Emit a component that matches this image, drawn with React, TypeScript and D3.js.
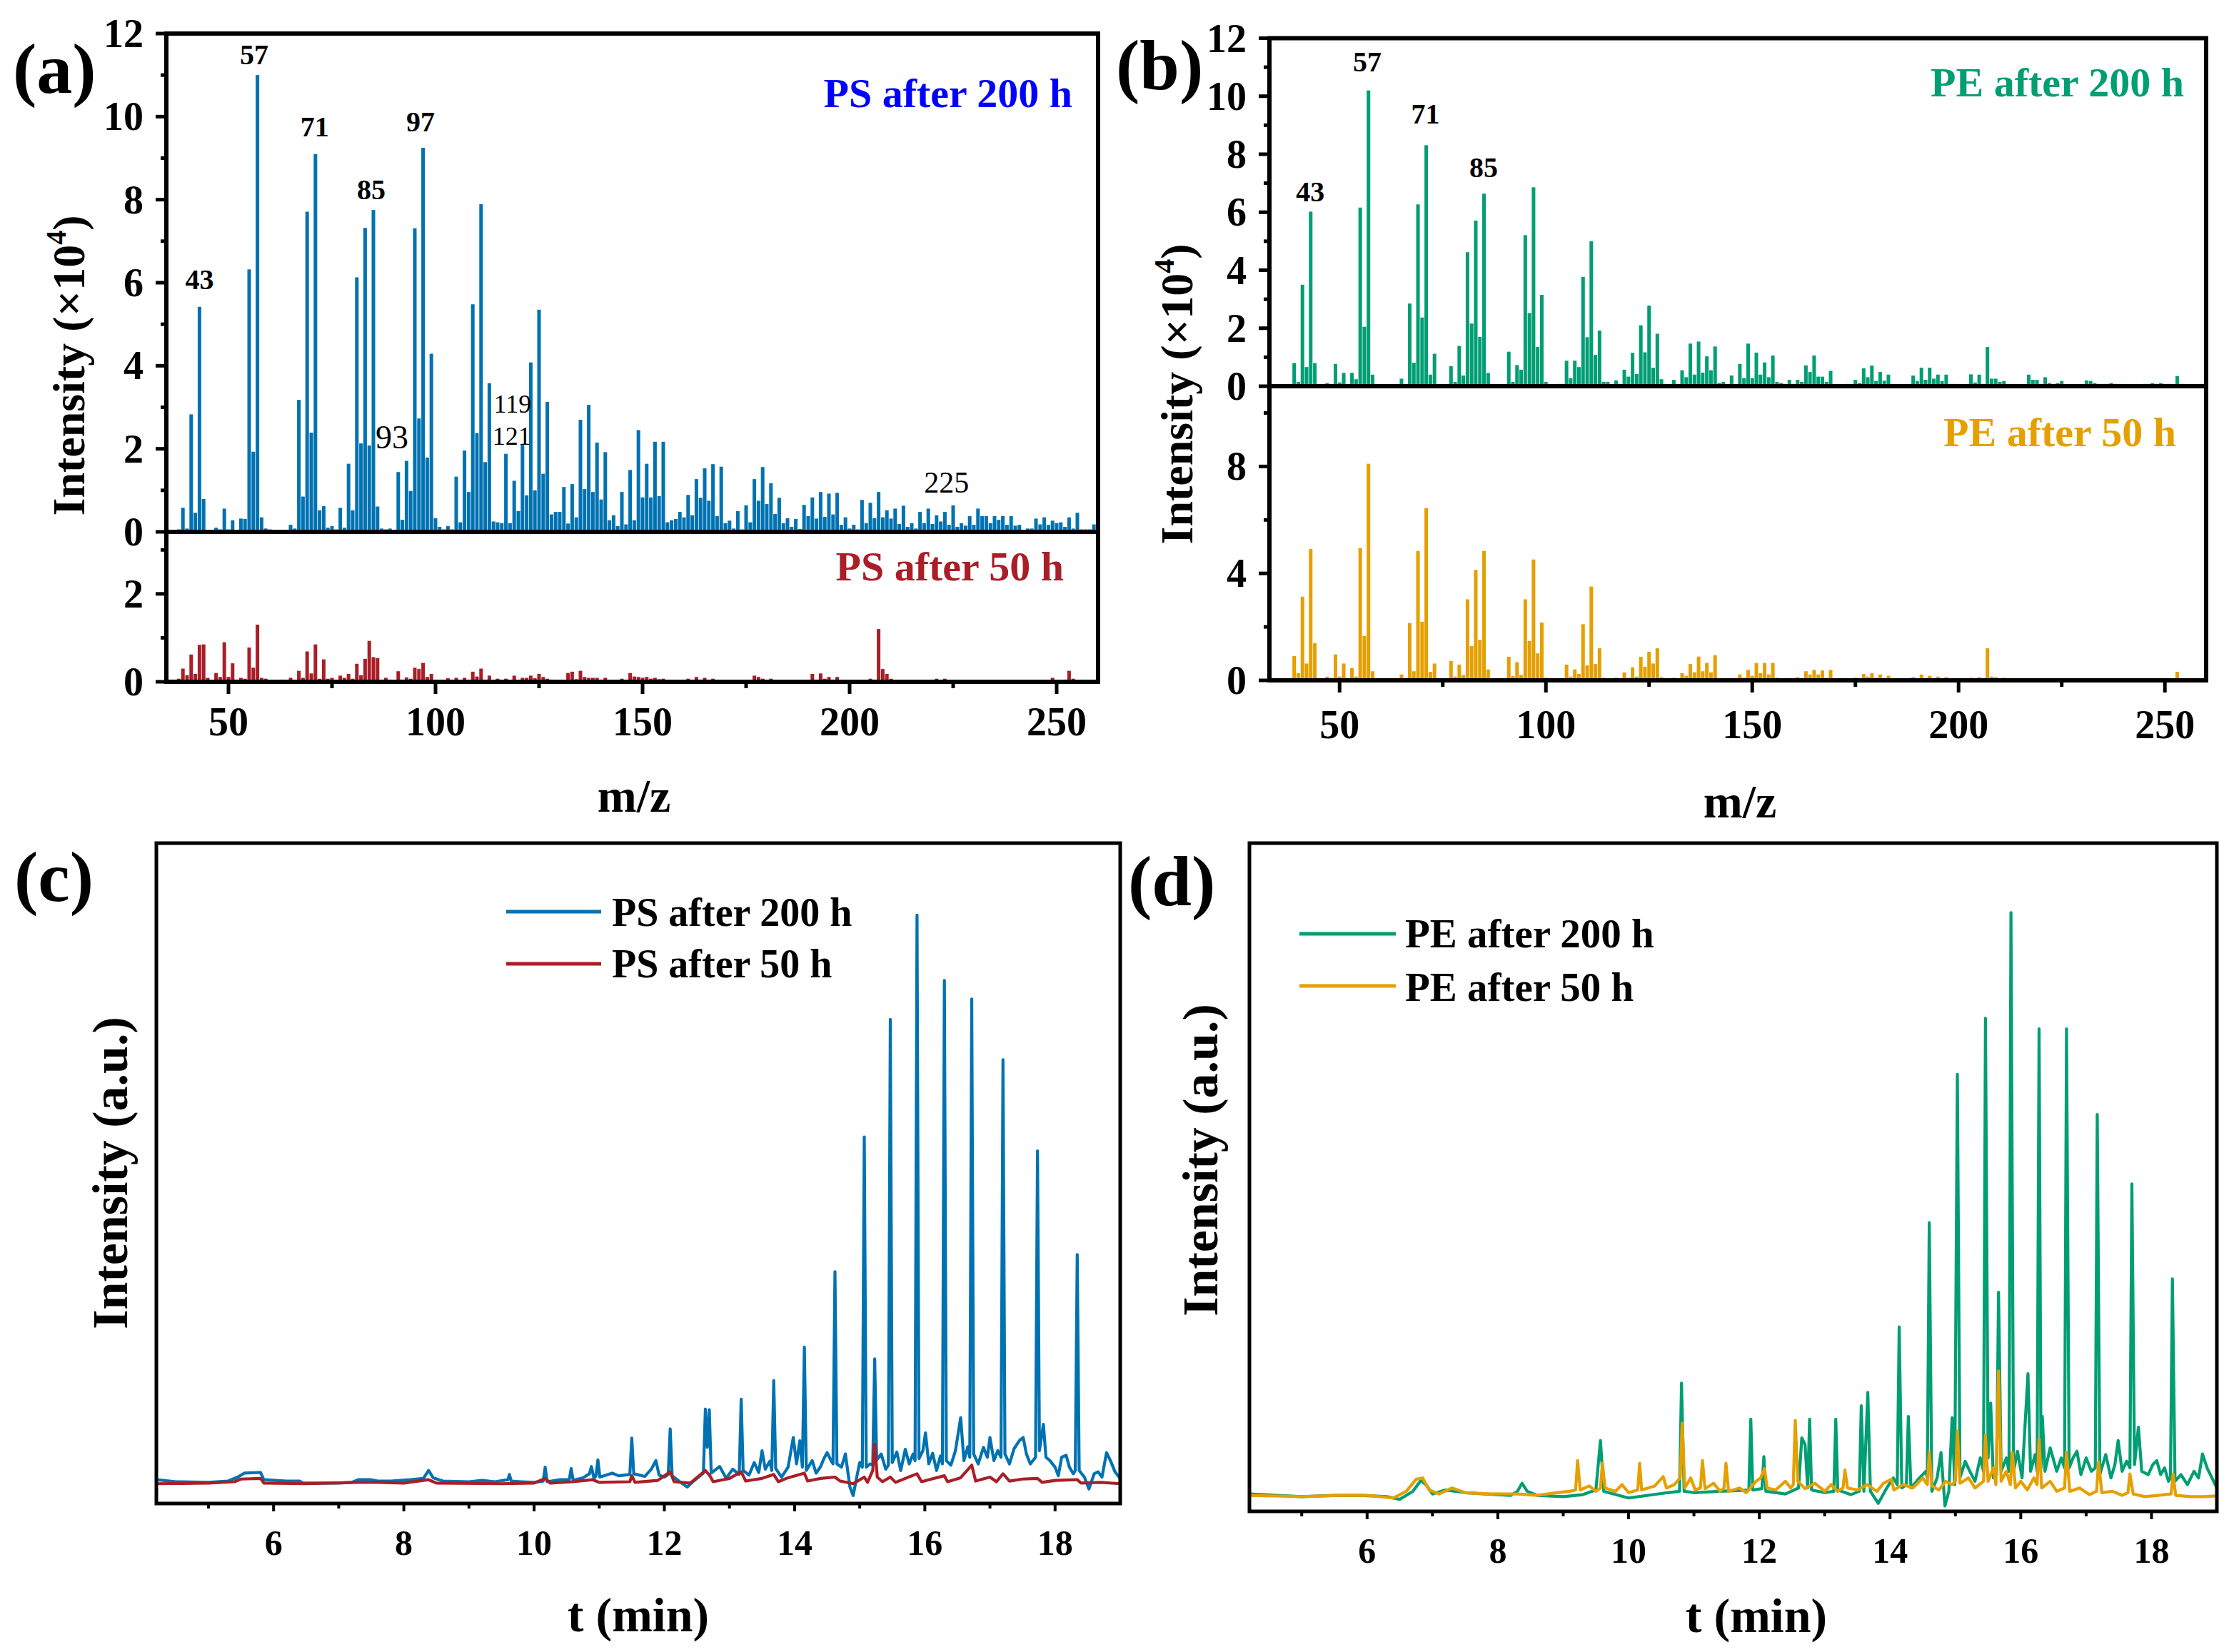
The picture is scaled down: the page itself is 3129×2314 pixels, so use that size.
import React from 'react';
import * as d3 from 'd3';

const FONT = "'Liberation Serif','Times New Roman',Times,serif";

// ---------------- Mass spectra (m/z from 36 to 259, intensity ×10^4) ----------------
const MZ_START = 36;

const ps200Intensity = [
  0, 0.04, 0.06, 0.58, 0.08, 2.83, 0.46, 5.42, 0.79, 0.05,
  0, 0.1, 0.06, 0.56, 0.06, 0.28, 0.04, 0.32, 0.31, 6.32,
  1.93, 11.0, 0.35, 0.08, 0.06, 0.04, 0, 0.04, 0, 0.17,
  0.08, 3.18, 0.85, 7.71, 2.39, 9.1, 0.52, 0.62, 0.1, 0.14,
  0.06, 0.58, 0.1, 1.64, 0.52, 6.13, 2.13, 7.32, 2.08, 7.75,
  0.61, 0.08, 0.06, 0.08, 0, 1.44, 0.29, 1.71, 0.98, 7.31,
  2.73, 9.25, 1.79, 4.29, 0.33, 0.12, 0.06, 0.14, 0.06, 1.33,
  0.23, 1.96, 0.96, 5.48, 2.38, 7.89, 1.68, 3.58, 0.25, 0.23,
  0.21, 1.88, 0.21, 1.23, 0.5, 2.1, 0.88, 4.08, 1.0, 5.35,
  1.4, 3.13, 0.42, 0.48, 0.48, 1.08, 0.2, 1.15, 0.35, 2.7,
  1.03, 3.06, 0.96, 2.15, 0.78, 1.92, 0.28, 0.4, 0.14, 0.96,
  0.18, 1.49, 0.28, 2.45, 0.83, 1.64, 0.83, 2.17, 0.86, 2.17,
  0.23, 0.28, 0.31, 0.48, 0.35, 0.89, 0.4, 1.27, 0.82, 1.53,
  0.75, 1.63, 0.38, 1.57, 0.21, 0.27, 0.08, 0.5, 0.06, 0.64,
  0.23, 1.27, 0.75, 1.56, 0.67, 1.17, 0.43, 0.82, 0.21, 0.33,
  0.12, 0.31, 0.07, 0.65, 0.38, 0.83, 0.32, 0.96, 0.36, 0.92,
  0.42, 0.94, 0.17, 0.35, 0.08, 0.17, 0.06, 0.77, 0.21, 0.7,
  0.33, 0.96, 0.35, 0.52, 0.32, 0.56, 0.19, 0.63, 0.12, 0.21,
  0.08, 0.48, 0.21, 0.56, 0.19, 0.4, 0.25, 0.48, 0.17, 0.64,
  0.12, 0.21, 0.15, 0.38, 0.17, 0.56, 0.38, 0.38, 0.21, 0.38,
  0.29, 0.38, 0.17, 0.38, 0.15, 0.17, 0.04, 0.08, 0.08, 0.32,
  0.18, 0.35, 0.17, 0.27, 0.21, 0.23, 0.12, 0.35, 0.08, 0.46,
  0.06, 0.06, 0.06, 0.18,
];

const ps50Intensity = [
  0.05, 0.05, 0.07, 0.3, 0.15, 0.62, 0.18, 0.84, 0.85, 0.09,
  0, 0.2, 0.11, 0.9, 0.11, 0.42, 0.05, 0.09, 0.07, 0.78,
  0.32, 1.3, 0.09, 0.07, 0, 0, 0, 0.05, 0, 0.09,
  0, 0.25, 0.09, 0.69, 0.19, 0.85, 0.07, 0.51, 0.07, 0.09,
  0, 0.14, 0.09, 0.18, 0.07, 0.41, 0.15, 0.52, 0.93, 0.56,
  0.54, 0.05, 0.09, 0.05, 0, 0.24, 0.05, 0.1, 0.07, 0.32,
  0.29, 0.43, 0.11, 0.18, 0, 0, 0, 0.08, 0.05, 0.09,
  0, 0.09, 0, 0.23, 0.12, 0.3, 0.05, 0.14, 0, 0.07,
  0, 0.07, 0, 0.14, 0, 0.09, 0.09, 0.14, 0.08, 0.18,
  0.11, 0.07, 0.05, 0, 0, 0, 0.2, 0.23, 0.06, 0.25,
  0.11, 0.09, 0.09, 0.09, 0.05, 0.09, 0, 0, 0, 0.07,
  0, 0.2, 0.12, 0.11, 0.09, 0.11, 0.07, 0.09, 0.06, 0.07,
  0, 0, 0, 0, 0, 0.07, 0, 0.11, 0.05, 0.09,
  0.05, 0.07, 0.03, 0, 0, 0, 0, 0, 0, 0,
  0, 0.14, 0.11, 0.07, 0.04, 0.07, 0.04, 0, 0, 0,
  0, 0, 0, 0, 0, 0.18, 0.05, 0.19, 0.07, 0.11,
  0.05, 0.11, 0, 0, 0, 0, 0, 0, 0, 0.07,
  0.05, 1.2, 0.29, 0.18, 0.07, 0.04, 0, 0, 0, 0,
  0, 0, 0, 0, 0, 0.07, 0, 0.07, 0, 0,
  0, 0, 0, 0, 0, 0, 0, 0, 0, 0,
  0, 0, 0, 0, 0, 0, 0, 0, 0, 0,
  0, 0, 0, 0.09, 0, 0, 0.05, 0.25, 0.07, 0.04,
  0, 0, 0, 0,
];

const pe200Intensity = [
  0, 0.04, 0.04, 0.8, 0.15, 3.5, 0.66, 6.02, 0.8, 0.05,
  0, 0.11, 0.05, 0.77, 0.13, 0.46, 0.04, 0.46, 0.24, 6.16,
  2.05, 10.2, 0.4, 0.04, 0, 0, 0, 0.04, 0, 0.26,
  0.08, 2.85, 0.81, 6.27, 2.37, 8.31, 0.4, 1.12, 0.04, 0.04,
  0, 0.69, 0.15, 1.39, 0.37, 4.62, 2.16, 5.71, 1.7, 6.64,
  0.46, 0.04, 0.04, 0.04, 0, 1.19, 0.15, 0.73, 0.57, 5.21,
  2.52, 6.86, 1.35, 3.15, 0.15, 0, 0, 0.08, 0.08, 0.88,
  0.28, 0.88, 0.66, 3.77, 1.69, 5.0, 1.08, 1.92, 0.15, 0.15,
  0, 0.2, 0.08, 0.57, 0.33, 1.15, 0.42, 2.1, 1.17, 2.78,
  0.64, 1.81, 0.24, 0.08, 0, 0.22, 0, 0.55, 0.31, 1.47,
  0.4, 1.54, 0.47, 1.03, 0.55, 1.37, 0.11, 0.15, 0.06, 0.37,
  0.08, 0.77, 0.28, 1.47, 0.28, 1.16, 0.4, 0.82, 0.31, 1.06,
  0.15, 0.11, 0.08, 0.22, 0.08, 0.22, 0.15, 0.72, 0.49, 1.06,
  0.33, 0.33, 0.15, 0.53, 0.06, 0.06, 0, 0.08, 0, 0.22,
  0.11, 0.62, 0.31, 0.71, 0.18, 0.49, 0.19, 0.4, 0.08, 0.06,
  0, 0.06, 0, 0.37, 0.18, 0.64, 0.22, 0.64, 0.26, 0.4,
  0.18, 0.4, 0.08, 0.08, 0, 0.06, 0, 0.41, 0.13, 0.4,
  0.08, 1.35, 0.26, 0.26, 0.15, 0.18, 0, 0, 0, 0.04,
  0, 0.4, 0.22, 0.22, 0.08, 0.31, 0.11, 0.08, 0.11, 0.18,
  0, 0, 0, 0.04, 0, 0.2, 0.18, 0.11, 0.08, 0.08,
  0.08, 0.11, 0.08, 0.08, 0, 0, 0, 0.04, 0, 0.08,
  0.08, 0.11, 0.08, 0.11, 0.08, 0.08, 0.04, 0.35, 0.08, 0.06,
  0, 0.04, 0, 0.08,
];

const pe50Intensity = [
  0, 0.04, 0.04, 0.91, 0.27, 3.13, 0.63, 4.91, 1.39, 0.08,
  0, 0.14, 0.08, 0.97, 0.14, 0.63, 0.08, 0.46, 0.14, 4.95,
  1.66, 8.1, 0.34, 0.04, 0, 0, 0, 0.04, 0, 0.22,
  0.08, 2.14, 0.34, 4.84, 2.19, 6.44, 0.32, 0.63, 0.08, 0.08,
  0, 0.72, 0.14, 0.59, 0.2, 3.03, 1.28, 4.13, 1.52, 4.84,
  0.41, 0.04, 0.04, 0.04, 0, 0.88, 0.16, 0.68, 0.2, 3.03,
  1.47, 4.52, 1.01, 2.16, 0.1, 0, 0, 0.04, 0.04, 0.59,
  0.14, 0.41, 0.24, 2.1, 0.56, 3.51, 0.61, 1.2, 0.1, 0.08,
  0, 0.1, 0.04, 0.3, 0.1, 0.49, 0.14, 0.88, 0.51, 1.07,
  0.63, 1.2, 0.12, 0.04, 0, 0.1, 0.04, 0.27, 0.17, 0.61,
  0.3, 0.89, 0.34, 0.65, 0.3, 0.94, 0.08, 0.04, 0, 0.08,
  0.04, 0.22, 0.1, 0.39, 0.17, 0.65, 0.27, 0.65, 0.22, 0.65,
  0.1, 0.04, 0.04, 0.04, 0, 0.12, 0.04, 0.34, 0.22, 0.39,
  0.22, 0.37, 0.1, 0.39, 0.04, 0, 0, 0.04, 0, 0.1,
  0.04, 0.24, 0.14, 0.27, 0.1, 0.22, 0.04, 0.17, 0, 0,
  0, 0.04, 0, 0.12, 0.04, 0.22, 0.08, 0.17, 0.08, 0.14,
  0.04, 0.12, 0.04, 0, 0, 0, 0, 0.1, 0.04, 0.12,
  0.04, 1.2, 0.14, 0.12, 0.04, 0.1, 0, 0, 0, 0,
  0, 0, 0, 0.04, 0.04, 0.06, 0.04, 0.04, 0.06, 0.04,
  0, 0, 0, 0, 0, 0, 0, 0.04, 0.04, 0.04,
  0.04, 0.06, 0.04, 0.04, 0, 0, 0, 0, 0, 0.04,
  0, 0.04, 0.04, 0.04, 0, 0, 0.04, 0.32, 0.06, 0.04,
  0, 0, 0, 0,
];

// peak annotations: text, m/z position, label height (data units)
const psLabelText = ['43', '57', '71', '85', '97', '93', '119', '121', '225'];
const psLabelMz = [43, 56.2, 70.8, 84.5, 96.4, 89.5, 118.6, 118.4, 223.4];
const psLabelY = [5.85, 11.26, 9.52, 8.01, 9.64, 2.01, 2.87, 2.1, 0.95];
const peLabelText = ['43', '57', '71', '85'];
const peLabelMz = [42.9, 56.7, 70.8, 84.9];
const peLabelY = [6.38, 10.86, 9.06, 7.22];

const mzMajorTicks = [50, 100, 150, 200, 250];
const mzMinorTicks = [75, 125, 175, 225];
const topMajorTicks = [0, 2, 4, 6, 8, 10, 12];
const topMinorTicks = [1, 3, 5, 7, 9, 11];
const psBotMajorTicks = [0, 2];
const psBotMinorTicks = [1, 3];
const peBotMajorTicks = [0, 4, 8];
const peBotMinorTicks = [2, 6, 10];

// ---------------- Chromatograms: [time (min), intensity (a.u., 0-100)] ----------------
const psTrace200: [number, number][] = [
  [4.2,3.6],[4.5,3.3],[5.0,3.2],[5.3,3.4],[5.45,4.0],[5.55,4.6],[5.8,4.7],[5.85,3.6],[6.2,3.4],[6.4,3.4],[6.45,3.1],[7.0,3.1],[7.2,3.2],[7.3,3.6],[7.5,3.6],[7.6,3.4],[7.8,3.4],[8.1,3.6],[8.3,3.8],[8.38,5.0],[8.45,3.9],[8.6,3.4],[9.0,3.3],[9.2,3.5],[9.4,3.3],[9.6,3.6],[9.62,4.4],[9.65,3.4],[9.8,3.3],[10.0,3.2],[10.14,3.4],[10.17,5.5],[10.2,3.3],[10.4,3.6],[10.54,3.6],[10.57,5.3],[10.6,3.5],[10.75,3.9],[10.85,4.5],[10.88,5.6],[10.92,3.8],[10.95,4.2],[10.98,6.6],[11.01,4.0],[11.2,4.6],[11.3,4.2],[11.47,4.4],[11.5,9.9],[11.53,4.5],[11.7,4.1],[11.8,5.2],[11.87,6.5],[11.92,4.3],[12.0,4.0],[12.06,4.4],[12.09,11.3],[12.12,4.2],[12.25,3.2],[12.35,2.5],[12.45,3.4],[12.55,4.2],[12.6,4.6],[12.63,14.3],[12.66,8.5],[12.69,14.2],[12.72,4.6],[12.85,5.6],[12.95,3.8],[13.05,5.2],[13.15,4.4],[13.18,15.8],[13.21,5.0],[13.3,4.3],[13.38,6.2],[13.45,4.7],[13.5,8.0],[13.55,5.2],[13.62,6.4],[13.65,5.0],[13.68,18.6],[13.71,5.3],[13.8,4.0],[13.9,5.5],[13.98,10.0],[14.03,6.0],[14.08,9.5],[14.12,5.5],[14.15,23.7],[14.18,5.0],[14.27,6.5],[14.33,4.6],[14.4,5.6],[14.45,6.8],[14.5,7.7],[14.56,6.5],[14.59,6.0],[14.62,35.1],[14.65,6.0],[14.72,5.5],[14.78,7.5],[14.85,2.5],[14.9,1.2],[14.95,3.8],[15.0,6.2],[15.04,5.5],[15.07,55.5],[15.1,5.5],[15.16,6.0],[15.2,5.8],[15.23,21.9],[15.26,6.6],[15.33,7.5],[15.4,5.2],[15.44,5.8],[15.47,73.3],[15.5,6.2],[15.57,7.8],[15.63,5.0],[15.7,8.2],[15.76,6.0],[15.82,7.5],[15.85,6.5],[15.88,89.1],[15.91,6.8],[15.97,8.0],[16.01,10.7],[16.06,6.0],[16.12,7.6],[16.18,5.0],[16.24,7.2],[16.27,6.0],[16.3,79.2],[16.33,6.5],[16.4,5.8],[16.47,8.0],[16.55,13.0],[16.6,6.5],[16.66,8.6],[16.69,7.0],[16.72,76.4],[16.75,7.5],[16.82,6.0],[16.9,8.5],[16.96,7.0],[17.0,10.0],[17.06,6.5],[17.12,8.0],[17.17,7.0],[17.2,67.2],[17.23,7.5],[17.3,6.0],[17.37,8.3],[17.45,9.5],[17.51,10.0],[17.56,7.5],[17.62,6.0],[17.7,7.0],[17.73,53.4],[17.76,8.0],[17.82,12.0],[17.86,7.0],[17.92,6.5],[18.0,5.5],[18.05,4.2],[18.1,7.0],[18.17,7.3],[18.22,5.5],[18.28,4.5],[18.31,5.0],[18.34,37.7],[18.37,5.0],[18.45,4.0],[18.52,2.2],[18.6,4.5],[18.66,4.8],[18.72,4.0],[18.79,7.7],[18.85,6.5],[18.92,4.8],[19.0,3.8],
];

const psTrace50: [number, number][] = [
  [4.2,3.0],[5.0,3.1],[5.4,3.3],[5.5,3.7],[5.8,3.8],[5.85,3.1],[6.5,3.0],[7.3,3.2],[7.6,3.2],[8.0,3.1],[8.38,3.6],[8.5,3.1],[9.5,3.0],[10.0,3.1],[10.17,3.8],[10.25,3.1],[10.6,3.3],[10.9,3.6],[11.0,3.2],[11.47,3.3],[11.5,4.2],[11.55,3.2],[11.9,3.5],[12.09,4.8],[12.15,3.3],[12.4,3.1],[12.63,5.0],[12.7,4.2],[12.75,3.3],[13.0,3.8],[13.18,4.8],[13.25,3.4],[13.5,3.8],[13.68,4.4],[13.75,3.3],[13.9,3.9],[14.15,4.6],[14.2,3.4],[14.4,3.8],[14.62,4.0],[14.7,3.4],[14.9,3.0],[15.07,4.0],[15.12,3.2],[15.2,5.0],[15.23,9.0],[15.27,4.0],[15.35,3.3],[15.47,4.0],[15.55,3.2],[15.7,3.8],[15.88,4.5],[15.95,3.3],[16.1,3.7],[16.3,4.2],[16.35,3.3],[16.55,3.9],[16.72,5.8],[16.78,3.4],[17.0,4.0],[17.1,3.3],[17.2,4.5],[17.3,3.4],[17.5,3.7],[17.73,3.8],[17.8,3.2],[18.0,3.5],[18.34,3.6],[18.4,3.1],[18.7,3.2],[19.0,3.0],
];

const peTrace200: [number, number][] = [
  [4.2,2.6],[5.0,2.2],[5.5,2.4],[5.9,2.4],[6.3,2.2],[6.5,1.8],[6.7,3.0],[6.82,4.6],[6.9,4.0],[7.0,2.6],[7.2,3.2],[7.5,2.8],[7.8,2.6],[8.2,2.4],[8.3,3.0],[8.37,4.2],[8.45,3.0],[8.6,2.4],[9.0,2.2],[9.3,2.5],[9.5,3.2],[9.57,10.6],[9.62,3.0],[10.0,2.0],[10.3,2.4],[10.6,2.8],[10.78,3.0],[10.81,19.2],[10.85,3.0],[11.0,2.8],[11.4,3.0],[11.84,3.2],[11.87,13.8],[11.9,3.2],[12.04,3.4],[12.07,8.2],[12.1,3.0],[12.4,2.6],[12.6,3.5],[12.65,11.0],[12.7,10.0],[12.74,3.5],[12.77,13.8],[12.8,3.2],[13.0,2.8],[13.14,3.0],[13.17,13.8],[13.2,3.2],[13.4,2.5],[13.53,3.0],[13.56,15.8],[13.6,3.0],[13.66,17.8],[13.7,3.0],[13.82,1.2],[13.95,3.5],[14.05,5.0],[14.11,4.0],[14.14,27.6],[14.18,3.5],[14.25,4.0],[14.28,14.2],[14.32,3.5],[14.45,5.0],[14.55,6.0],[14.57,5.0],[14.6,43.2],[14.64,3.0],[14.72,5.0],[14.78,8.8],[14.84,0.8],[14.9,3.0],[14.95,14.0],[14.99,4.0],[15.03,65.4],[15.07,5.0],[15.15,7.5],[15.22,6.0],[15.3,4.5],[15.38,8.0],[15.43,6.0],[15.46,73.8],[15.5,8.0],[15.54,16.2],[15.58,5.0],[15.63,5.5],[15.66,32.8],[15.7,6.0],[15.78,8.0],[15.82,6.0],[15.85,89.6],[15.89,6.0],[15.95,9.0],[16.02,5.0],[16.11,20.6],[16.15,6.0],[16.22,8.5],[16.25,6.0],[16.28,72.2],[16.31,6.5],[16.33,14.2],[16.37,6.0],[16.45,9.5],[16.55,6.0],[16.62,8.0],[16.67,6.5],[16.7,72.2],[16.74,6.5],[16.8,8.0],[16.86,9.0],[16.92,5.5],[17.0,8.0],[17.08,6.0],[17.14,6.5],[17.17,59.4],[17.21,5.5],[17.3,8.5],[17.38,5.0],[17.44,7.0],[17.49,10.6],[17.55,6.0],[17.62,7.5],[17.67,6.5],[17.7,49.0],[17.74,7.0],[17.8,12.6],[17.85,6.0],[17.95,5.5],[18.02,7.0],[18.08,7.6],[18.14,5.5],[18.2,6.5],[18.26,4.5],[18.29,5.0],[18.32,34.8],[18.36,4.5],[18.45,5.5],[18.55,4.0],[18.65,6.0],[18.72,5.0],[18.78,8.6],[18.85,6.5],[18.95,4.5],[19.0,3.5],
];

const peTrace50: [number, number][] = [
  [4.2,2.4],[5.0,2.2],[5.6,2.4],[6.0,2.4],[6.4,2.0],[6.6,3.0],[6.75,4.8],[6.85,5.0],[6.95,3.2],[7.1,2.6],[7.3,3.5],[7.5,2.8],[7.9,2.6],[8.3,2.6],[8.6,2.4],[8.9,2.8],[9.1,3.0],[9.19,3.2],[9.22,7.6],[9.26,3.2],[9.4,3.8],[9.5,3.0],[9.57,3.5],[9.6,7.2],[9.64,3.5],[9.8,3.0],[9.9,4.0],[10.0,2.8],[10.14,3.2],[10.17,7.2],[10.2,3.2],[10.4,3.8],[10.53,5.2],[10.58,3.5],[10.7,4.0],[10.79,5.0],[10.82,13.2],[10.86,3.5],[10.95,5.0],[11.02,3.2],[11.1,3.5],[11.13,7.6],[11.17,3.4],[11.3,4.2],[11.4,3.0],[11.46,3.5],[11.49,7.2],[11.53,3.0],[11.7,3.5],[11.8,2.8],[11.95,4.5],[12.02,5.0],[12.08,6.4],[12.12,3.5],[12.25,3.2],[12.4,4.5],[12.48,3.5],[12.52,4.0],[12.55,13.6],[12.59,4.5],[12.7,3.4],[12.85,4.2],[13.0,3.0],[13.1,4.0],[13.2,3.0],[13.28,3.5],[13.31,6.2],[13.35,3.5],[13.5,3.2],[13.65,4.0],[13.8,3.0],[13.9,4.2],[14.02,4.8],[14.06,3.2],[14.2,4.0],[14.35,3.5],[14.5,5.0],[14.57,4.0],[14.6,8.8],[14.64,3.8],[14.75,3.2],[14.85,4.5],[14.95,4.0],[15.0,4.5],[15.03,12.0],[15.07,4.2],[15.2,5.0],[15.3,3.5],[15.43,4.5],[15.46,11.4],[15.5,4.5],[15.58,6.5],[15.62,4.0],[15.66,21.0],[15.7,4.5],[15.78,6.0],[15.84,4.0],[15.87,8.8],[15.92,3.5],[16.0,4.5],[16.1,3.2],[16.2,5.0],[16.25,4.0],[16.28,10.8],[16.32,3.5],[16.45,4.5],[16.55,3.0],[16.67,3.5],[16.7,8.8],[16.75,3.0],[16.9,3.5],[17.05,2.5],[17.16,3.0],[17.19,7.4],[17.24,2.8],[17.4,3.0],[17.55,2.4],[17.64,2.8],[17.67,5.6],[17.72,2.6],[17.9,2.2],[18.1,2.4],[18.3,2.6],[18.33,5.6],[18.37,2.4],[18.6,2.2],[18.8,2.2],[19.0,2.3],
];

const tMajorTicks = [6, 8, 10, 12, 14, 16, 18];
const tMinorTicks = [5, 7, 9, 11, 13, 15, 17];

// ---------------- colours ----------------
const C_PS200 = '#0072B2';
const C_PS50 = '#AA1E27';
const C_PE200 = '#009E73';
const C_PE50 = '#E69F00';

type MSProps = {
  left: number; right: number; top: number; mid: number; bottom: number;
  xDomain: [number, number]; topDomain: [number, number]; botDomain: [number, number];
  topVals: number[]; botVals: number[]; topColor: string; botColor: string;
  botMajor: number[]; botMinor: number[];
  yLabelX: number; xLabelBaseline: number;
  labelText: string[]; labelMz: number[]; labelY: number[]; labelStyle: (i: number) => { size: number; weight: string };
  topName: string; topNameColor: string; topNameX: number; topNameY: number;
  botName: string; botNameColor: string; botNameX: number; botNameY: number;
};

function MSPanel(p: MSProps) {
  const x = d3.scaleLinear().domain(p.xDomain).range([p.left, p.right]);
  const yT = d3.scaleLinear().domain(p.topDomain).range([p.mid, p.top]);
  const yB = d3.scaleLinear().domain(p.botDomain).range([p.bottom, p.mid]);
  const bw = 5;
  const sw = 6;
  return (
    <g>
      {p.topVals.map((v, i) => v > 0 ? (
        <rect key={'t' + i} x={x(MZ_START + i) - bw / 2} y={yT(v)} width={bw} height={yT(0) - yT(v)} fill={p.topColor} />
      ) : null)}
      {p.botVals.map((v, i) => v > 0 ? (
        <rect key={'b' + i} x={x(MZ_START + i) - bw / 2} y={yB(v)} width={bw} height={yB(0) - yB(v)} fill={p.botColor} />
      ) : null)}
      {/* frame */}
      <rect x={p.left} y={p.top} width={p.right - p.left} height={p.bottom - p.top} fill="none" stroke="#000" strokeWidth={sw} />
      <line x1={p.left} x2={p.right} y1={p.mid} y2={p.mid} stroke="#000" strokeWidth={sw} />
      {/* y ticks top */}
      {topMajorTicks.map(t => (
        <g key={'ytm' + t}>
          <line x1={p.left - 15} x2={p.left} y1={yT(t)} y2={yT(t)} stroke="#000" strokeWidth={5} />
          <text x={p.yLabelX} y={yT(t) + 19} textAnchor="end" fontSize={56} fontWeight="bold" fontFamily={FONT}>{t}</text>
        </g>
      ))}
      {topMinorTicks.map(t => (
        <line key={'ytn' + t} x1={p.left - 8} x2={p.left} y1={yT(t)} y2={yT(t)} stroke="#000" strokeWidth={5} />
      ))}
      {p.botMajor.map(t => (
        <g key={'ybm' + t}>
          <line x1={p.left - 15} x2={p.left} y1={yB(t)} y2={yB(t)} stroke="#000" strokeWidth={5} />
          <text x={p.yLabelX} y={yB(t) + 19} textAnchor="end" fontSize={56} fontWeight="bold" fontFamily={FONT}>{t}</text>
        </g>
      ))}
      {p.botMinor.map(t => (
        <line key={'ybn' + t} x1={p.left - 8} x2={p.left} y1={yB(t)} y2={yB(t)} stroke="#000" strokeWidth={5} />
      ))}
      {/* x ticks */}
      {mzMajorTicks.map(t => (
        <g key={'xm' + t}>
          <line x1={x(t)} x2={x(t)} y1={p.bottom} y2={p.bottom + 17} stroke="#000" strokeWidth={5} />
          <text x={x(t)} y={p.xLabelBaseline} textAnchor="middle" fontSize={56} fontWeight="bold" fontFamily={FONT}>{t}</text>
        </g>
      ))}
      {mzMinorTicks.map(t => (
        <line key={'xn' + t} x1={x(t)} x2={x(t)} y1={p.bottom} y2={p.bottom + 9} stroke="#000" strokeWidth={5} />
      ))}
      {/* peak labels */}
      {p.labelText.map((s, i) => {
        const st = p.labelStyle(i);
        return (
          <text key={'pl' + i} x={x(p.labelMz[i])} y={yT(p.labelY[i])} textAnchor="middle" fontSize={st.size} fontWeight={st.weight} fontFamily={FONT}>{s}</text>
        );
      })}
      <text x={p.topNameX} y={p.topNameY} textAnchor="end" fontSize={58} fontWeight="bold" fontFamily={FONT} fill={p.topNameColor}>{p.topName}</text>
      <text x={p.botNameX} y={p.botNameY} textAnchor="end" fontSize={58} fontWeight="bold" fontFamily={FONT} fill={p.botNameColor}>{p.botName}</text>
    </g>
  );
}

type ChromProps = {
  left: number; right: number; top: number; bottom: number;
  traces: { data: [number, number][]; color: string; width: number }[];
  tickBaseline: number;
};

function ChromPanel(p: ChromProps) {
  const x = d3.scaleLinear().domain([4.2, 19]).range([p.left, p.right]);
  const y = d3.scaleLinear().domain([0, 100]).range([p.bottom, p.top]);
  const line = d3.line<[number, number]>().x(d => x(d[0])).y(d => y(d[1]));
  return (
    <g>
      {p.traces.map((tr, i) => (
        <path key={'tr' + i} d={line(tr.data) || ''} fill="none" stroke={tr.color} strokeWidth={tr.width} strokeLinejoin="round" />
      ))}
      <rect x={p.left} y={p.top} width={p.right - p.left} height={p.bottom - p.top} fill="none" stroke="#000" strokeWidth={5} />
      {tMajorTicks.map(t => (
        <g key={'cm' + t}>
          <line x1={x(t)} x2={x(t)} y1={p.bottom} y2={p.bottom + 11} stroke="#000" strokeWidth={4} />
          <text x={x(t)} y={p.tickBaseline} textAnchor="middle" fontSize={50} fontWeight="bold" fontFamily={FONT}>{t}</text>
        </g>
      ))}
      {tMinorTicks.map(t => (
        <line key={'cn' + t} x1={x(t)} x2={x(t)} y1={p.bottom} y2={p.bottom + 7} stroke="#000" strokeWidth={4} />
      ))}
    </g>
  );
}

const psLabelStyle = (i: number) => {
  const s = psLabelText[i];
  if (s === '93') return { size: 46, weight: 'normal' };
  if (s === '119' || s === '121') return { size: 36, weight: 'normal' };
  if (s === '225') return { size: 42, weight: 'normal' };
  return { size: 40, weight: 'bold' };
};
const peLabelStyle = () => ({ size: 40, weight: 'bold' });

function YTitle({ x, y, size, children }: { x: number; y: number; size: number; children: React.ReactNode }) {
  return (
    <text transform={`translate(${x},${y}) rotate(-90)`} textAnchor="middle" fontSize={size} fontWeight="bold" fontFamily={FONT}>{children}</text>
  );
}

export default function App() {
  return (
    <svg width={3129} height={2314} viewBox="0 0 3129 2314" style={{ position: 'absolute', left: 0, top: 0, background: '#fff' }}>
      <rect x={0} y={0} width={3129} height={2314} fill="#fff" />

      {/* (a) */}
      <MSPanel
        left={233} right={1538} top={47} mid={745} bottom={955}
        xDomain={[35, 260]} topDomain={[0, 12]} botDomain={[0, 3.41]}
        topVals={ps200Intensity} botVals={ps50Intensity} topColor={C_PS200} botColor={C_PS50}
        botMajor={psBotMajorTicks} botMinor={psBotMinorTicks}
        yLabelX={201} xLabelBaseline={1030}
        labelText={psLabelText} labelMz={psLabelMz} labelY={psLabelY} labelStyle={psLabelStyle}
        topName="PS after 200 h" topNameColor="#0000FF" topNameX={1502} topNameY={150}
        botName="PS after 50 h" botNameColor={C_PS50} botNameX={1490} botNameY={813}
      />
      <YTitle x={118} y={512} size={64}>
        Intensity (×10<tspan dy={-26} fontSize={40}>4</tspan><tspan dy={26}>)</tspan>
      </YTitle>
      <text x={888} y={1137} textAnchor="middle" fontSize={66} fontWeight="bold" fontFamily={FONT}>m/z</text>
      <text x={18} y={130} fontSize={100} fontWeight="bold" fontFamily={FONT}>(a)</text>

      {/* (b) */}
      <MSPanel
        left={1778} right={3090} top={53.5} mid={541} bottom={953}
        xDomain={[33, 260]} topDomain={[0, 12]} botDomain={[0, 11]}
        topVals={pe200Intensity} botVals={pe50Intensity} topColor={C_PE200} botColor={C_PE50}
        botMajor={peBotMajorTicks} botMinor={peBotMinorTicks}
        yLabelX={1746} xLabelBaseline={1034}
        labelText={peLabelText} labelMz={peLabelMz} labelY={peLabelY} labelStyle={peLabelStyle}
        topName="PE after 200 h" topNameColor={C_PE200} topNameX={3059} topNameY={135}
        botName="PE after 50 h" botNameColor={C_PE50} botNameX={3048} botNameY={625}
      />
      <YTitle x={1670} y={552} size={64}>
        Intensity (×10<tspan dy={-26} fontSize={40}>4</tspan><tspan dy={26}>)</tspan>
      </YTitle>
      <text x={2437} y={1145} textAnchor="middle" fontSize={66} fontWeight="bold" fontFamily={FONT}>m/z</text>
      <text x={1563} y={125} fontSize={100} fontWeight="bold" fontFamily={FONT}>(b)</text>

      {/* (c) */}
      <ChromPanel left={219} right={1569} top={1181} bottom={2106} tickBaseline={2178}
        traces={[{ data: psTrace200, color: C_PS200, width: 4.2 }, { data: psTrace50, color: C_PS50, width: 4.2 }]} />
      <YTitle x={178} y={1643} size={70}>Intensity (a.u.)</YTitle>
      <text x={894} y={2285} textAnchor="middle" fontSize={68} fontWeight="bold" fontFamily={FONT}>t (min)</text>
      <text x={20} y={1262} fontSize={100} fontWeight="bold" fontFamily={FONT}>(c)</text>
      <line x1={709} x2={842} y1={1277} y2={1277} stroke={C_PS200} strokeWidth={5} />
      <line x1={709} x2={842} y1={1350} y2={1350} stroke={C_PS50} strokeWidth={5} />
      <text x={857} y={1297} fontSize={56} fontWeight="bold" fontFamily={FONT}>PS after 200 h</text>
      <text x={857} y={1369} fontSize={56} fontWeight="bold" fontFamily={FONT}>PS after 50 h</text>

      {/* (d) */}
      <ChromPanel left={1750} right={3105} top={1181} bottom={2117} tickBaseline={2189}
        traces={[{ data: peTrace200, color: C_PE200, width: 4.2 }, { data: peTrace50, color: C_PE50, width: 4.2 }]} />
      <YTitle x={1705} y={1625} size={70}>Intensity (a.u.)</YTitle>
      <text x={2460} y={2286} textAnchor="middle" fontSize={68} fontWeight="bold" fontFamily={FONT}>t (min)</text>
      <text x={1580} y={1268} fontSize={100} fontWeight="bold" fontFamily={FONT}>(d)</text>
      <line x1={1820} x2={1955} y1={1308} y2={1308} stroke={C_PE200} strokeWidth={5} />
      <line x1={1820} x2={1955} y1={1381} y2={1381} stroke={C_PE50} strokeWidth={5} />
      <text x={1968} y={1327} fontSize={57} fontWeight="bold" fontFamily={FONT}>PE after 200 h</text>
      <text x={1968} y={1402} fontSize={57} fontWeight="bold" fontFamily={FONT}>PE after 50 h</text>
    </svg>
  );
}
